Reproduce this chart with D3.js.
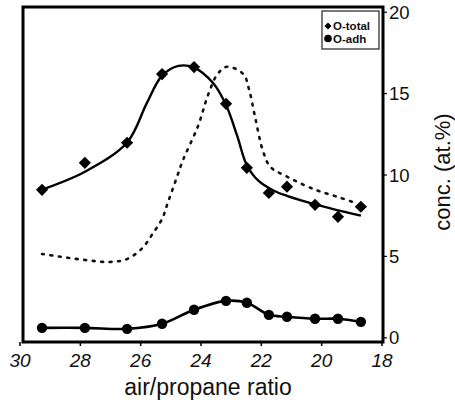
<!DOCTYPE html>
<html><head><meta charset="utf-8">
<script src="https://cdn.jsdelivr.net/npm/d3@7"></script>
<style>
html,body{margin:0;padding:0;background:#fff;}
svg{display:block;font-family:"Liberation Sans",Arial,sans-serif;}
</style></head>
<body><svg id="c" width="455" height="400"></svg>
<script>
// ---- data ----
const ratio   = [29.27, 27.85, 26.45, 25.29, 24.23, 23.17, 22.48, 21.75, 21.15, 20.22, 19.46, 18.70];
const oTotal  = [9.09, 10.75, 11.98, 16.2, 16.63, 14.37, 10.44, 8.9, 9.28, 8.17, 7.43, 8.05];
const oAdh    = [0.61, 0.61, 0.55, 0.86, 1.72, 2.27, 2.15, 1.41, 1.29, 1.17, 1.17, 0.98];
// smooth fit drawn through O-total
const fitX    = [29.27, 27.85, 26.45, 25.8, 25.29, 24.75, 24.23, 23.6, 23.17, 22.8, 22.48, 22.1, 21.6, 21.15, 20.22, 18.70];
const fitY    = [9.1, 10.2, 12.0, 14.4, 16.1, 16.7, 16.6, 15.65, 14.3, 12.4, 10.6, 9.65, 9.05, 8.72, 8.2, 7.5];
// dotted curve (unlabelled)
const dotX    = [29.27, 27.85, 27.02, 26.45, 25.95, 25.6, 25.29, 25.1, 24.85, 24.6, 24.1, 23.75, 23.45, 23.14, 22.6, 22.4, 22.2, 21.95, 21.7, 21.15, 20.22, 19.46, 18.9];
const dotY    = [5.15, 4.78, 4.66, 4.84, 5.5, 6.4, 7.3, 8.3, 9.6, 10.9, 13.0, 15.0, 16.2, 16.65, 16.2, 15.2, 13.5, 11.5, 10.5, 9.9, 9.1, 8.65, 8.3];
const xTicks  = [30, 28, 26, 24, 22, 20, 18];
const yTicks  = [0, 5, 10, 15, 20];
const legendLabels = ["O-total", "O-adh"];
const xTitle = "air/propane ratio";
const yTitle = "conc. (at.%)";

const svg = d3.select("#c");
const x = d3.scaleLinear().domain([30, 18]).range([20, 382]);
const y = d3.scaleLinear().domain([0, 20]).range([337.8, 12.2]);
const frame = {l: 23, r: 383, t: 7, b: 342};

// frame
svg.append("rect").attr("x", frame.l).attr("y", frame.t)
  .attr("width", frame.r - frame.l).attr("height", frame.b - frame.t)
  .attr("fill", "none").attr("stroke", "#000").attr("stroke-width", 3);

// x ticks
const gx = svg.append("g");
gx.selectAll("line").data(xTicks).join("line")
  .attr("x1", d => x(d)).attr("x2", d => x(d))
  .attr("y1", frame.b).attr("y2", frame.b + 4)
  .attr("stroke", "#000").attr("stroke-width", 1.5);
gx.selectAll("text").data(xTicks).join("text")
  .attr("x", d => x(d)).attr("y", 367)
  .attr("text-anchor", "middle").attr("font-size", 19).attr("font-style", "italic")
  .attr("fill", "#111").text(d => d);

// y ticks (right)
const gy = svg.append("g");
gy.selectAll("line").data(yTicks).join("line")
  .attr("x1", frame.r).attr("x2", frame.r + 4)
  .attr("y1", d => y(d)).attr("y2", d => y(d))
  .attr("stroke", "#000").attr("stroke-width", 1.2);
gy.selectAll("text").data(yTicks).join("text")
  .attr("x", 389).attr("y", d => y(d)).attr("dy", "0.36em")
  .attr("font-size", 18.5).attr("fill", "#111").text(d => d);

// titles
svg.append("text").attr("x", 208).attr("y", 395).attr("text-anchor", "middle")
  .attr("font-size", 23).attr("fill", "#111").text(xTitle);
svg.append("text").attr("transform", "translate(450,172) rotate(-90)")
  .attr("text-anchor", "middle").attr("font-size", 22).attr("fill", "#111").text(yTitle);

const curve = d3.curveCatmullRom.alpha(0.5);

// dotted curve
const dotPts = dotX.map((v, i) => [v, dotY[i]]);
svg.append("path").datum(dotPts)
  .attr("d", d3.line().x(d => x(d[0])).y(d => y(d[1])).curve(curve))
  .attr("fill", "none").attr("stroke", "#111").attr("stroke-width", 2.6)
  .attr("stroke-linecap", "round").attr("stroke-dasharray", "2,6.5");

// fit line for O-total
const fitPts = fitX.map((v, i) => [v, fitY[i]]);
svg.append("path").datum(fitPts)
  .attr("d", d3.line().x(d => x(d[0])).y(d => y(d[1])).curve(curve))
  .attr("fill", "none").attr("stroke", "#000").attr("stroke-width", 2.4);

// O-total diamonds
const diamond = d3.symbol().type(d3.symbolDiamond2).size(95);
svg.append("g").selectAll("path").data(ratio.map((v, i) => [v, oTotal[i]])).join("path")
  .attr("transform", d => `translate(${x(d[0])},${y(d[1])})`)
  .attr("d", diamond).attr("fill", "#000");

// O-adh line + circles
const adhPts = ratio.map((v, i) => [v, oAdh[i]]);
svg.append("path").datum(adhPts)
  .attr("d", d3.line().x(d => x(d[0])).y(d => y(d[1])).curve(curve))
  .attr("fill", "none").attr("stroke", "#000").attr("stroke-width", 2.6);
svg.append("g").selectAll("circle").data(adhPts).join("circle")
  .attr("cx", d => x(d[0])).attr("cy", d => y(d[1])).attr("r", 5.2).attr("fill", "#000");

// legend
const lg = svg.append("g");
lg.append("rect").attr("x", 322).attr("y", 11).attr("width", 57).attr("height", 38)
  .attr("fill", "#fff").attr("stroke", "#222").attr("stroke-width", 1.2);
lg.append("path").attr("transform", "translate(328,26)")
  .attr("d", d3.symbol().type(d3.symbolDiamond2).size(32)).attr("fill", "#000");
lg.append("circle").attr("cx", 328).attr("cy", 38.5).attr("r", 3.8).attr("fill", "#000");
lg.selectAll("text").data(legendLabels).join("text")
  .attr("x", 333).attr("y", (d, i) => 26 + i * 12.5).attr("dy", "0.36em")
  .attr("font-size", 11.5).attr("font-weight", "bold").attr("fill", "#111").text(d => d);
</script></body></html>
